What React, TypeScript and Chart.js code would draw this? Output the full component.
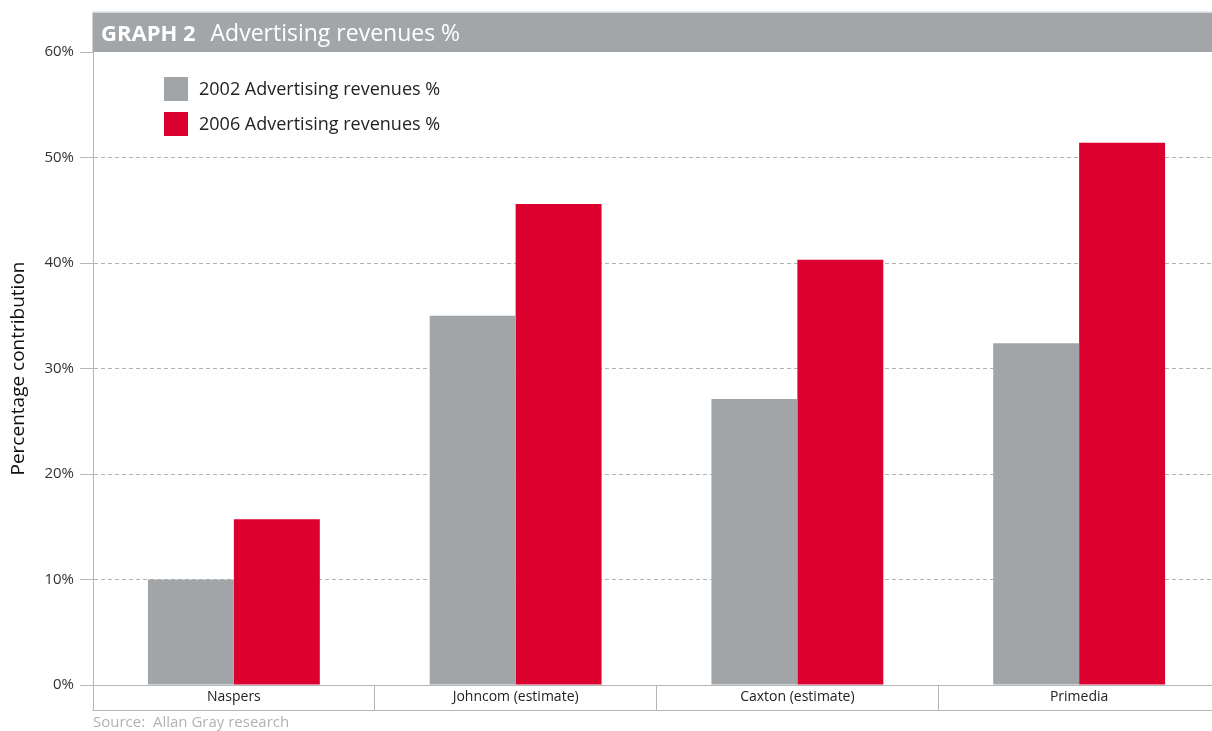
import React, { useEffect, useRef } from "react";
import { Chart, registerables } from "chart.js";

Chart.register(...registerables);

const categories = ["Naspers", "Johncom (estimate)", "Caxton (estimate)", "Primedia"];
const seriesLabels = ["2002 Advertising revenues %", "2006 Advertising revenues %"];
const values2002 = [10.0, 35.0, 27.1, 32.4];
const values2006 = [15.7, 45.6, 40.3, 51.4];
const yMin = 0;
const yMax = 60;
const yStep = 10;
const titleBold = "GRAPH 2";
const titleRest = "Advertising revenues %";
const yAxisTitle = "Percentage contribution";
const sourceText = "Source:  Allan Gray research";

const GRAY = "#a2a5a8";
const RED = "#dc002e";
const LINE = "#b4b6b8";
const FONT = "'Open Sans', 'Noto Sans', sans-serif";

const decorPlugin = {
  id: "decor",
  afterDraw(chart: any) {
    const { ctx, chartArea, width } = chart;
    const xs = chart.scales.x;
    ctx.save();
    // title bar
    ctx.fillStyle = "#d4d6d8";
    ctx.fillRect(chartArea.left - 0.5, 11.5, width, 1.5);
    ctx.fillStyle = "#a3a6a9";
    ctx.fillRect(chartArea.left - 0.5, 13, width, chartArea.top - 13);
    ctx.fillStyle = "#ffffff";
    ctx.textBaseline = "alphabetic";
    ctx.textAlign = "left";
    ctx.font = `bold 22px ${FONT}`;
    const tx = chartArea.left + 8;
    ctx.fillText(titleBold, tx, 41);
    const bw = ctx.measureText(titleBold).width;
    ctx.font = `23px ${FONT}`;
    ctx.fillText(titleRest, tx + bw + 15, 41);

    // legend
    chart.data.datasets.forEach((ds: any, i: number) => {
      const y = 77 + 35 * i;
      ctx.fillStyle = ds.backgroundColor;
      ctx.fillRect(164, y, 24, 24);
      ctx.fillStyle = "#222222";
      ctx.font = `18px ${FONT}`;
      ctx.textBaseline = "middle";
      ctx.fillText(ds.label, 199, y + 13);
    });

    // bottom line of the category box
    ctx.strokeStyle = LINE;
    ctx.lineWidth = 1;
    ctx.beginPath();
    ctx.moveTo(chartArea.left - 0.5, xs.bottom + 0.5);
    ctx.lineTo(width, xs.bottom + 0.5);
    ctx.stroke();

    // source
    ctx.fillStyle = "#b0b2b4";
    ctx.font = `15px ${FONT}`;
    ctx.textBaseline = "middle";
    ctx.fillText(sourceText, chartArea.left, xs.bottom + 13);
    ctx.restore();
  },
};

export default function App() {
  const ref = useRef<HTMLCanvasElement | null>(null);

  useEffect(() => {
    if (!ref.current) return;
    Chart.defaults.font.family = FONT;
    const chart = new Chart(ref.current, {
      type: "bar",
      data: {
        labels: categories,
        datasets: [
          {
            label: seriesLabels[0],
            data: values2002,
            backgroundColor: GRAY,
            borderWidth: 0,
            categoryPercentage: 0.61,
            barPercentage: 1.0,
          },
          {
            label: seriesLabels[1],
            data: values2006,
            backgroundColor: RED,
            borderWidth: 0,
            categoryPercentage: 0.61,
            barPercentage: 1.0,
          },
        ],
      },
      options: {
        animation: false,
        responsive: true,
        maintainAspectRatio: false,
        layout: { padding: { top: 52, bottom: 21, left: 0, right: 0 } },
        plugins: {
          legend: { display: false },
          tooltip: { enabled: false },
          title: { display: false },
        },
        scales: {
          x: {
            type: "category",
            grid: {
              offset: true,
              drawOnChartArea: false,
              drawTicks: true,
              tickLength: 25,
              color: LINE,
              tickColor: LINE,
            },
            border: { display: true, color: LINE, width: 1 },
            ticks: {
              padding: -21,
              color: "#222222",
              font: { size: 14, family: FONT },
              maxRotation: 0,
            },
            afterFit(s: any) {
              s.height = 25;
            },
          },
          y: {
            min: yMin,
            max: yMax,
            grid: {
              drawOnChartArea: true,
              drawTicks: true,
              tickLength: 13,
              color: (c: any) =>
                c.tick && (c.tick.value === yMin || c.tick.value === yMax)
                  ? "rgba(0,0,0,0)"
                  : "#b3b3b3",
              tickColor: LINE,
              tickBorderDash: [],
            },
            border: { display: true, color: LINE, width: 1, dash: [4, 3] },
            ticks: {
              stepSize: yStep,
              padding: 6,
              color: "#333333",
              font: { size: 15, family: FONT },
              callback: (v: any) => `${v}%`,
            },
            title: {
              display: true,
              text: yAxisTitle,
              color: "#111111",
              font: { size: 19, family: FONT },
              padding: { top: 7, bottom: 0 },
            },
            afterFit(s: any) {
              s.width = 93;
            },
          },
        },
      },
      plugins: [decorPlugin],
    } as any);
    return () => chart.destroy();
  }, []);

  return (
    <div
      style={{
        position: "absolute",
        left: 0,
        top: 0,
        width: 1212,
        height: 731,
        overflow: "hidden",
        background: "#ffffff",
      }}
    >
      <div style={{ position: "relative", width: 1220, height: 731 }}>
        <canvas ref={ref} />
      </div>
    </div>
  );
}
